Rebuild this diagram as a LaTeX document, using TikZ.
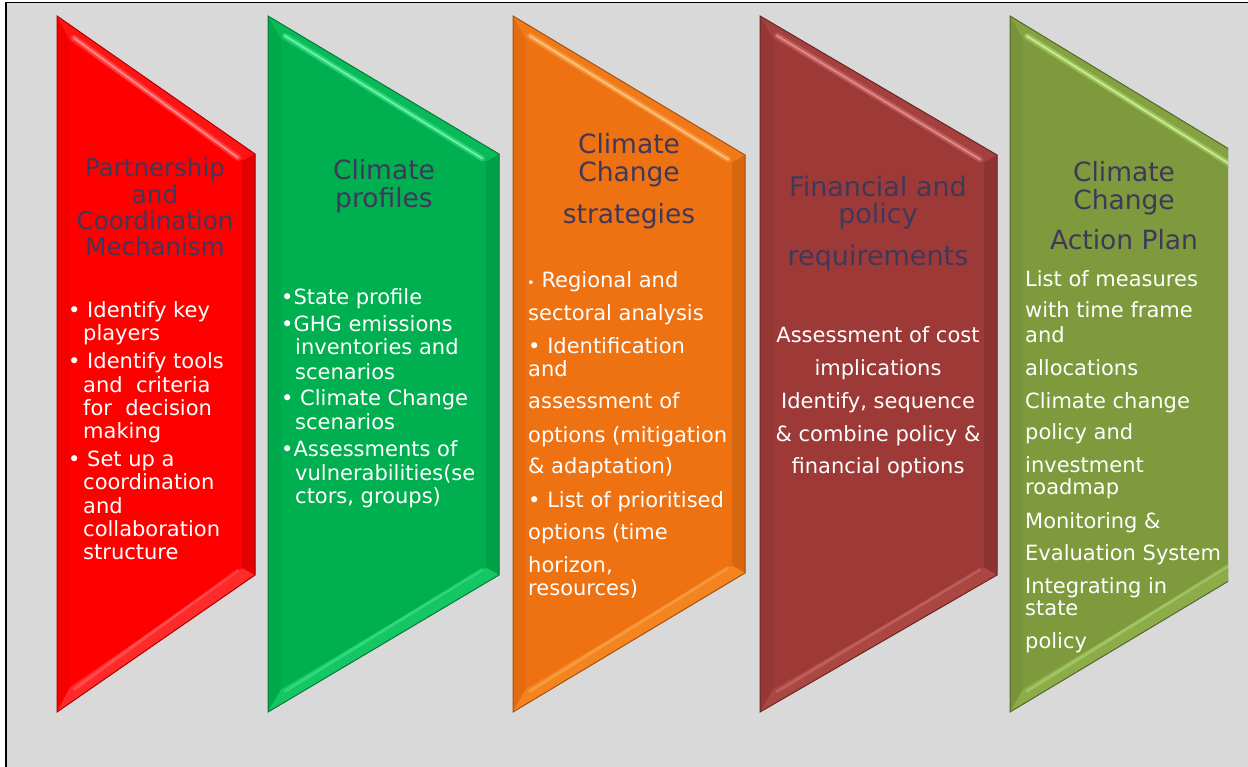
\documentclass[tikz,border=0pt]{standalone}
\usepackage{fontspec}
\setmainfont{DejaVu Sans}
\usetikzlibrary{calc}

% panel and text colours
\definecolor{panel}{HTML}{D9D9D9}
\definecolor{titlecol}{HTML}{40385A}
% bevelled arrow colours: base, outline, top band, highlight, left band, right band, bottom band
\definecolor{redbase}{HTML}{FF0000}\definecolor{redline}{HTML}{B30000}\definecolor{redtop}{HTML}{FF1414}
\definecolor{redhi}{HTML}{FF8C8C}\definecolor{redside}{HTML}{F40000}\definecolor{redrside}{HTML}{E20000}\definecolor{redbot}{HTML}{FF2A2A}
\definecolor{grnbase}{HTML}{00B050}\definecolor{grnline}{HTML}{087A3A}\definecolor{grntop}{HTML}{08BA58}
\definecolor{grnhi}{HTML}{6AF7AC}\definecolor{grnside}{HTML}{00A84C}\definecolor{grnrside}{HTML}{00A048}\definecolor{grnbot}{HTML}{14C664}
\definecolor{orgbase}{HTML}{EE7112}\definecolor{orgline}{HTML}{A9510E}\definecolor{orgtop}{HTML}{F07A1A}
\definecolor{orghi}{HTML}{FFC47C}\definecolor{orgside}{HTML}{E46C10}\definecolor{orgrside}{HTML}{D9670F}\definecolor{orgbot}{HTML}{F4841F}
\definecolor{drdbase}{HTML}{9D3A38}\definecolor{drdline}{HTML}{6B2625}\definecolor{drdtop}{HTML}{A4413F}
\definecolor{drdhi}{HTML}{E48A88}\definecolor{drdside}{HTML}{953735}\definecolor{drdrside}{HTML}{8B3432}\definecolor{drdbot}{HTML}{AA4742}
\definecolor{olvbase}{HTML}{7E9A3D}\definecolor{olvline}{HTML}{54692A}\definecolor{olvtop}{HTML}{85A243}
\definecolor{olvhi}{HTML}{C6F28C}\definecolor{olvside}{HTML}{78933A}\definecolor{olvrside}{HTML}{728C37}\definecolor{olvbot}{HTML}{8CAC4A}

% #1 left x, #2 right x, #3 top-right y, #4 bottom-right y, #5 colour prefix
\newcommand\chevron[5]{%
  \pgfmathsetmacro\sa{(#3-16)/(#2-#1)}%
  \pgfmathsetmacro\sb{(712-#4)/(#2-#1)}%
  \pgfmathsetmacro\ka{13*sqrt(1+\sa*\sa)}%
  \pgfmathsetmacro\kb{13*sqrt(1+\sb*\sb)}%
  \pgfmathsetmacro\ixl{#1+13}%
  \pgfmathsetmacro\ixr{#2-13}%
  \pgfmathsetmacro\iyTL{16+13*\sa+\ka}%
  \pgfmathsetmacro\iyTR{#3-13*\sa+\ka}%
  \pgfmathsetmacro\iyBR{#4+13*\sb-\kb}%
  \pgfmathsetmacro\iyBL{712-13*\sb-\kb}%
  \coordinate (#5TL) at (#1,16);
  \coordinate (#5TR) at (#2,#3);
  \coordinate (#5BR) at (#2,#4);
  \coordinate (#5BL) at (#1,712);
  \coordinate (#5ITL) at (\ixl,\iyTL);
  \coordinate (#5ITR) at (\ixr,\iyTR);
  \coordinate (#5IBR) at (\ixr,\iyBR);
  \coordinate (#5IBL) at (\ixl,\iyBL);
  % soft drop shadow
  \fill[black,opacity=.10,shift={(4,5)}] (#5TL)--(#5TR)--(#5BR)--(#5BL)--cycle;
  \fill[black,opacity=.10,shift={(2,3)}] (#5TL)--(#5TR)--(#5BR)--(#5BL)--cycle;
  % face and bevel bands
  \fill[#5base] (#5TL)--(#5TR)--(#5BR)--(#5BL)--cycle;
  \fill[#5side] (#5TL)--(#5ITL)--(#5IBL)--(#5BL)--cycle;
  \fill[#5rside] (#5TR)--(#5BR)--(#5IBR)--(#5ITR)--cycle;
  \fill[#5top] (#5TL)--(#5TR)--(#5ITR)--(#5ITL)--cycle;
  \fill[#5bot] (#5BL)--(#5IBL)--(#5IBR)--(#5BR)--cycle;
  % highlights along the slanted bevels
  \draw[#5hi,opacity=.35,line width=6,line cap=round] ($(#5ITL)+(4,-3)$)--($(#5ITR)+(-4,-3)$);
  \draw[#5hi,opacity=.9,line width=2,line cap=round] ($(#5ITL)+(4,-3)$)--($(#5ITR)+(-4,-3)$);
  \draw[#5hi,opacity=.35,line width=3,line cap=round] ($(#5IBL)+(4,2)$)--($(#5IBR)+(-4,2)$);
  % outline
  \draw[#5line,line width=1] (#5TL)--(#5TR)--(#5BR)--(#5BL)--cycle;
}

% one text node per line: #1 name prefix, #2 style, #3 list of x/y/text
\newcommand\txtlines[3]{%
  \foreach \tx/\ty/\lt [count=\ti] in {#3}{\node[#2] (#1\ti) at (\tx,\ty) {\lt};}}

\newcommand\sbul{{\fontsize{13pt}{13pt}\selectfont •}\ }

\begin{document}
\begin{tikzpicture}[x=1pt,y=-1pt,
  titlea/.style={font=\fontsize{24.5pt}{28pt}\selectfont, text=titlecol, inner sep=0, anchor=base},
  titleb/.style={font=\fontsize{26.5pt}{30pt}\selectfont, text=titlecol, inner sep=0, anchor=base},
  titlec/.style={font=\fontsize{27pt}{30pt}\selectfont, text=titlecol, inner sep=0, anchor=base},
  bodyl/.style={font=\fontsize{21pt}{24pt}\selectfont, text=white, inner sep=0, anchor=base west},
  bodyc/.style={font=\fontsize{21pt}{24pt}\selectfont, text=white, inner sep=0, anchor=base}]

\useasboundingbox (0,0) rectangle (1248,767);
\fill[white] (0,0) rectangle (1248,767);
\fill[panel] (6,2.5) rectangle (1262,782);
\draw[black,line width=1.6] (6,2.5) rectangle (1262,782);

% the five process arrows
\chevron{57}{255}{154}{575}{red}
\chevron{268}{499}{154}{575}{grn}
\chevron{513}{745}{155}{573}{org}
\chevron{760}{997}{155}{575}{drd}
\begin{scope}
  \clip (0,0) rectangle (1228,767);
  \chevron{1010}{1247}{160}{570}{olv}
\end{scope}

% 1: partnership
\txtlines{rt}{titlea}{155/177/Partnership, 155/204/and, 155/230/Coordination, 155/256/Mechanism}
\txtlines{rb}{bodyl}{68/318/{• Identify key}, 83/341/players, 68/368/{• Identify tools},
  83/392/{and\ \ criteria}, 83/415/{for\ \ decision}, 83/438/making, 68/466/{• Set up a},
  83/489/coordination, 83/513/and, 83/536/collaboration, 83/559/structure}

% 2: climate profiles
\txtlines{gt}{titleb}{384/180/Climate, 384/208/profiles}
\txtlines{gb}{bodyl}{281/305/{•State profile}, 281/332/{•GHG emissions}, 295/355/{inventories and},
  295/379/scenarios, 281/406/{• Climate Change}, 295/429/scenarios, 281/456/{•Assessments of},
  295/480/{vulnerabilities(se}, 295/503/{ctors, groups)}}

% 3: strategies
\txtlines{ot}{titleb}{629/154/Climate, 629/182/Change, 629/224/strategies}
\txtlines{ob}{bodyl}{527/288/{\sbul Regional and}, 528/321/{sectoral analysis}, 528/354/{• Identification},
  528/377/and, 528/408/{assessment of}, 528/442/{options (mitigation}, 528/473/{\& adaptation)},
  528/507/{• List of prioritised}, 528/539/{options (time}, 528/572/{horizon,}, 528/595/{resources)}}

% 4: financial and policy requirements
\txtlines{dt}{titlec}{878/197/{Financial and}, 878/224/policy, 878/266/requirements}
\txtlines{db}{bodyc}{878/343/{Assessment of cost}, 878/376/implications, 878/408/{Identify, sequence},
  878/441/{\& combine policy \&}, 878/473/{financial options}}

% 5: action plan
\txtlines{vt}{titleb}{1124/182/Climate, 1124/210/Change, 1124/250/{Action Plan}}
\txtlines{vb}{bodyl}{1025/287/{List of measures}, 1025/318/{with time frame}, 1025/343/and,
  1025/375/allocations, 1025/408/{Climate change}, 1025/439/{policy and}, 1025/472/investment,
  1025/494/roadmap, 1025/528/{Monitoring \&}, 1025/560/{Evaluation System}, 1025/593/{Integrating in},
  1025/615/state, 1025/648/policy}

\end{tikzpicture}
\end{document}
